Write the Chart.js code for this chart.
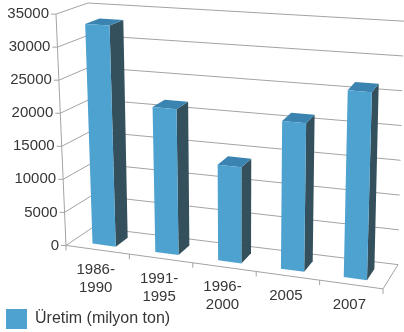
<!DOCTYPE html>
<html>
<head>
<meta charset="utf-8">
<script src="https://cdn.jsdelivr.net/npm/chart.js@4/dist/chart.umd.min.js"></script>
<style>
  html, body { margin: 0; padding: 0; background: #fff; }
  #wrap { width: 404px; height: 332px; }
</style>
</head>
<body>
<div id="wrap"><canvas id="chart"></canvas></div>
<script>
const categories = [['1986-', '1990'], ['1991-', '1995'], ['1996-', '2000'], ['2005'], ['2007']];
const production = [33300, 21600, 14000, 21300, 26500];
const yTicks = [0, 5000, 10000, 15000, 20000, 25000, 30000, 35000];
const seriesName = 'Üretim (milyon ton)';

const fontFamily = '"Liberation Sans", Arial, sans-serif';
const textColor = '#363636';
const gridColor = '#a3a3a3';
const faceFront = '#4ea2d0';
const faceTop = '#3b84b1';
const faceSide = '#33505c';

// corners of the 3d box, as fractions of the chart area
// F/B = front/back, L/R = left/right, last letter = bottom/top
const frame = {
  FLB: [0.0287, 0.8081], FLT: [0, 0.0370],
  BLB: [0.1063, 0.7475], BLT: [0.092, 0],
  FRB: [0.9397, 0.9529], FRT: [0.9626, 0.1145],
  BRB: [0.9828, 0.8721], BRT: [1.0, 0.0606]
};
const barDepth = [0.25, 0.72];

function lerp(a, b, k) {
  return [a[0] + (b[0] - a[0]) * k, a[1] + (b[1] - a[1]) * k];
}

// u: across the categories, t: up the value axis, w: into the depth
function project(area, u, t, w) {
  const f = frame;
  const front = lerp(lerp(f.FLB, f.FRB, u), lerp(f.FLT, f.FRT, u), t);
  const back = lerp(lerp(f.BLB, f.BRB, u), lerp(f.BLT, f.BRT, u), t);
  const p = lerp(front, back, w);
  return [area.left + p[0] * area.width, area.top + p[1] * area.height];
}

function poly(ctx, pts, color) {
  ctx.beginPath();
  ctx.moveTo(pts[0][0], pts[0][1]);
  for (let i = 1; i < pts.length; i++) ctx.lineTo(pts[i][0], pts[i][1]);
  ctx.closePath();
  ctx.fillStyle = color;
  ctx.fill();
}

function line(ctx, a, b) {
  ctx.beginPath();
  ctx.moveTo(a[0], a[1]);
  ctx.lineTo(b[0], b[1]);
  ctx.stroke();
}

const perspective = {
  id: 'perspective',
  beforeDatasetsDraw(chart) {
    const ctx = chart.ctx;
    const area = chart.chartArea;
    const xs = chart.scales.x;
    const ys = chart.scales.y;
    const P = (u, t, w) => project(area, u, t, w);
    const uOf = px => (px - area.left) / area.width;
    const tOf = v => (ys.bottom - ys.getPixelForValue(v)) / (ys.bottom - ys.top);

    ctx.save();
    ctx.strokeStyle = gridColor;
    ctx.lineWidth = 1;

    // walls: side wall and back wall grid lines
    yTicks.forEach(v => {
      const t = tOf(v);
      line(ctx, P(0, t, 0), P(0, t, 1));
      line(ctx, P(0, t, 1), P(1, t, 1));
    });
    // floor edges and value axis
    line(ctx, P(0, 0, 0), P(1, 0, 0));
    line(ctx, P(1, 0, 0), P(1, 0, 1));
    line(ctx, P(0, 0, 0), P(0, 1, 0));

    // tick marks
    yTicks.forEach(v => {
      const p = P(0, tOf(v), 0);
      line(ctx, [p[0] - 5, p[1]], p);
    });
    for (let k = 0; k <= categories.length; k++) {
      const p = P(uOf(xs.getPixelForValue(k - 0.5)), 0, 0);
      line(ctx, p, [p[0], p[1] + 5]);
    }

    // tick labels
    ctx.fillStyle = textColor;
    ctx.font = '15px ' + fontFamily;
    ctx.textAlign = 'right';
    ctx.textBaseline = 'middle';
    yTicks.forEach(v => {
      const p = P(0, tOf(v), 0);
      ctx.fillText(String(v), p[0] - 7, p[1]);
    });
    ctx.textAlign = 'center';
    categories.forEach((lab, i) => {
      const p = P(uOf(xs.getPixelForValue(i)), 0, 0);
      lab.forEach((s, j) => ctx.fillText(s, p[0] - 2, p[1] + 20 + j * 18));
    });

    // bars
    const meta = chart.getDatasetMeta(0);
    meta.data.forEach((bar, i) => {
      const u0 = uOf(bar.x - bar.width / 2);
      const u1 = uOf(bar.x + bar.width / 2);
      const t = tOf(production[i]);
      const [w0, w1] = barDepth;
      poly(ctx, [P(u1, 0, w0), P(u1, 0, w1), P(u1, t, w1), P(u1, t, w0)], faceSide);
      poly(ctx, [P(u0, t, w0), P(u1, t, w0), P(u1, t, w1), P(u0, t, w1)], faceTop);
      poly(ctx, [P(u0, 0, w0), P(u1, 0, w0), P(u1, t, w0), P(u0, t, w0)], faceFront);
    });
    ctx.restore();
    return false;
  }
};

new Chart(document.getElementById('chart'), {
  type: 'bar',
  data: {
    labels: categories,
    datasets: [{
      label: seriesName,
      data: production,
      backgroundColor: faceFront,
      borderWidth: 0,
      categoryPercentage: 1,
      barPercentage: 0.37
    }]
  },
  options: {
    responsive: true,
    maintainAspectRatio: false,
    animation: false,
    layout: { padding: { top: 3, bottom: -7 } },
    scales: {
      x: { display: false, offset: true },
      y: {
        min: yTicks[0],
        max: yTicks[yTicks.length - 1],
        ticks: { display: false, stepSize: 5000 },
        grid: { display: false },
        border: { display: false },
        afterFit: s => { s.width = 56; }
      }
    },
    plugins: {
      tooltip: { enabled: false },
      legend: {
        position: 'bottom',
        align: 'start',
        labels: {
          boxWidth: 21,
          boxHeight: 20,
          padding: 6,
          color: textColor,
          font: { size: 16, family: fontFamily }
        }
      }
    }
  },
  plugins: [perspective]
});
</script>
</body>
</html>
